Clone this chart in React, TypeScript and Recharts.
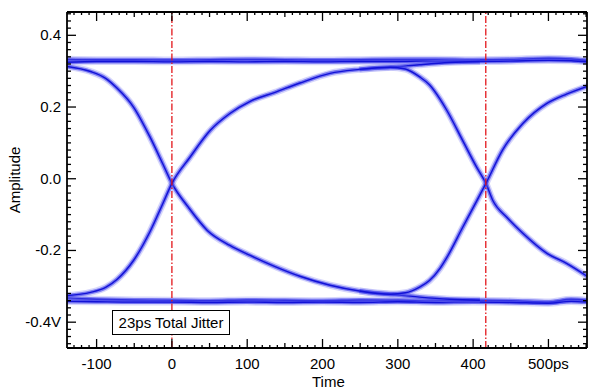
import { LineChart, Line, XAxis, YAxis, ReferenceLine } from "recharts";

// Eye diagram traces, [time ps, amplitude V]
const HIGH_1 = [
  [-140, 0.333], [-100, 0.332], [-50, 0.332], [0, 0.331], [50, 0.332], [100, 0.333], [150, 0.332], [200, 0.331],
  [250, 0.332], [300, 0.333], [350, 0.333], [400, 0.332], [450, 0.333], [500, 0.336], [530, 0.334], [552, 0.330],
];
const HIGH_2 = [
  [-140, 0.325], [-100, 0.327], [-50, 0.327], [0, 0.326], [50, 0.327], [100, 0.326], [150, 0.327], [200, 0.326],
  [250, 0.327], [300, 0.327], [350, 0.328], [400, 0.327], [450, 0.328], [500, 0.330], [530, 0.329], [552, 0.326],
];
const LOW_1 = [
  [-140, -0.333], [-100, -0.336], [-50, -0.338], [0, -0.339], [50, -0.340], [100, -0.338], [150, -0.339], [200, -0.340],
  [250, -0.338], [300, -0.339], [350, -0.340], [400, -0.339], [450, -0.340], [500, -0.344], [530, -0.336], [552, -0.339],
];
const LOW_2 = [
  [-140, -0.342], [-100, -0.343], [-50, -0.344], [0, -0.344], [50, -0.345], [100, -0.344], [150, -0.345], [200, -0.344],
  [250, -0.345], [300, -0.343], [350, -0.345], [400, -0.344], [450, -0.345], [500, -0.347], [530, -0.342], [552, -0.344],
];
// transitions through the first crossing
const FALL_A = [
  [-139, 0.313], [-108, 0.299], [-88, 0.280], [-73, 0.253], [-51, 0.200], [-29, 0.116], [-12, 0.041], [0, -0.013],
  [22, -0.080], [47, -0.144], [77, -0.186], [104, -0.214], [137, -0.245], [170, -0.272], [210, -0.297], [249, -0.313],
  [290, -0.322], [329, -0.330], [369, -0.336], [409, -0.339],
];
const RISE_B = [
  [-139, -0.326], [-108, -0.317], [-88, -0.303], [-73, -0.281], [-51, -0.228], [-29, -0.147], [-12, -0.069], [0, -0.013],
  [24, 0.060], [51, 0.135], [77, 0.182], [104, 0.216], [137, 0.241], [170, 0.267], [210, 0.294], [249, 0.305],
  [290, 0.311], [329, 0.318], [369, 0.324], [409, 0.327],
];
// transitions through the second crossing
const FALL_C = [
  [249, 0.305], [290, 0.311], [310, 0.306], [329, 0.284], [342, 0.262], [356, 0.222], [365, 0.191], [386, 0.107],
  [405, 0.031], [417, -0.013], [426, -0.060], [445, -0.108], [466, -0.152], [498, -0.208], [524, -0.236], [552, -0.273],
];
const RISE_D = [
  [249, -0.313], [290, -0.322], [310, -0.318], [329, -0.302], [342, -0.284], [356, -0.250], [365, -0.220], [386, -0.136],
  [405, -0.061], [417, -0.013], [439, 0.080], [466, 0.154], [498, 0.210], [524, 0.236], [552, 0.258],
];

const CROSSINGS = [0, 416.8];

const X_MAJOR = [-100, 0, 100, 200, 300, 400, 500];
const X_LABELS = ["-100", "0", "100", "200", "300", "400", "500ps"];
const Y_MAJOR = [-40, -20, 0, 20, 40]; // hundredths of a volt
const Y_LABELS = ["-0.4V", "-0.2", "0.0", "0.2", "0.4"];

const X_DOMAIN: [number, number] = [-139.3, 551.2];
const Y_DOMAIN: [number, number] = [-0.472, 0.465];

const xTicks: number[] = [];
for (let t = -130; t <= 550; t += 10) xTicks.push(t);
const yTicks: number[] = [];
for (let k = -46; k <= 46; k += 2) yTicks.push(k / 100);

const FONT = '"Liberation Sans", Arial, Helvetica, sans-serif';

const toPts = (rows: number[][]) => rows.map(([t, v]) => ({ t, v }));

const xLen = (v: number) => (v % 100 === 0 ? 9 : v % 50 === 0 ? 5 : 3);
const yLen = (k: number) => (k % 20 === 0 ? 9 : 4);

const BottomTick = (props: any) => {
  const { x, y, payload } = props;
  const val = Math.round(payload.value);
  const li = X_MAJOR.indexOf(val);
  return (
    <g>
      <line x1={x} y1={y} x2={x} y2={y - xLen(val)} stroke="#000" strokeWidth={1.3} />
      {li >= 0 && (
        <text x={x} y={y + 21} textAnchor="middle" fontSize={15} fontFamily={FONT} fill="#000">
          {X_LABELS[li]}
        </text>
      )}
    </g>
  );
};

const TopTick = (props: any) => {
  const { x, y, payload } = props;
  const val = Math.round(payload.value);
  return <line x1={x} y1={y} x2={x} y2={y + xLen(val)} stroke="#000" strokeWidth={1.3} />;
};

const LeftTick = (props: any) => {
  const { x, y, payload } = props;
  const k = Math.round(payload.value * 100);
  const li = Y_MAJOR.indexOf(k);
  return (
    <g>
      <line x1={x} y1={y} x2={x + yLen(k)} y2={y} stroke="#000" strokeWidth={1.3} />
      {li >= 0 && (
        <text x={x - 6} y={y + 5} textAnchor="end" fontSize={15} fontFamily={FONT} fill="#000">
          {Y_LABELS[li]}
        </text>
      )}
    </g>
  );
};

const RightTick = (props: any) => {
  const { x, y, payload } = props;
  const k = Math.round(payload.value * 100);
  return <line x1={x} y1={y} x2={x - yLen(k)} y2={y} stroke="#000" strokeWidth={1.3} />;
};

const TRACES = [
  { id: "high1", rows: HIGH_1 },
  { id: "high2", rows: HIGH_2 },
  { id: "low1", rows: LOW_1 },
  { id: "low2", rows: LOW_2 },
  { id: "fallA", rows: FALL_A },
  { id: "riseB", rows: RISE_B },
  { id: "fallC", rows: FALL_C },
  { id: "riseD", rows: RISE_D },
];

// each trace: a soft halo, a mid band and a dark core
const renderTrace = (tr: { id: string; rows: number[][] }) => {
  const data = toPts(tr.rows);
  return [
    <Line key={tr.id + "-halo"} data={data} dataKey="v" type="monotone" dot={false} activeDot={false}
      stroke="#7a7af2" strokeOpacity={0.3} strokeWidth={7} isAnimationActive={false} />,
    <Line key={tr.id + "-mid"} data={data} dataKey="v" type="monotone" dot={false} activeDot={false}
      stroke="#3a3aec" strokeOpacity={0.6} strokeWidth={4} isAnimationActive={false} />,
    <Line key={tr.id + "-core"} data={data} dataKey="v" type="monotone" dot={false} activeDot={false}
      stroke="#1212d6" strokeWidth={1.4} isAnimationActive={false} />,
  ];
};

export default function App() {
  const frame = { stroke: "#000", strokeWidth: 1.8 };
  return (
    <div style={{ position: "absolute", left: 0, top: 0, width: 589, height: 392, background: "#fff", fontFamily: FONT }}>
      <LineChart width={589} height={392} margin={{ top: 0, right: 0, bottom: 0, left: 0 }}>
        <XAxis dataKey="t" type="number" domain={X_DOMAIN} allowDataOverflow ticks={xTicks} interval={0}
          height={44} tickSize={0} tickMargin={0} tickLine={false} axisLine={frame} tick={BottomTick} />
        <XAxis xAxisId="top" orientation="top" dataKey="t" type="number" domain={X_DOMAIN} allowDataOverflow
          ticks={xTicks} interval={0} height={12} tickSize={0} tickMargin={0} tickLine={false} axisLine={frame} tick={TopTick} />
        <YAxis type="number" domain={Y_DOMAIN} allowDataOverflow ticks={yTicks} interval={0} width={67}
          tickSize={0} tickMargin={0} tickLine={false} axisLine={frame} tick={LeftTick} />
        <YAxis yAxisId="r" orientation="right" type="number" domain={Y_DOMAIN} allowDataOverflow ticks={yTicks}
          interval={0} width={2} tickSize={0} tickMargin={0} tickLine={false} axisLine={frame} tick={RightTick} />
        {TRACES.flatMap(renderTrace)}
        {CROSSINGS.map((c) => (
          <ReferenceLine key={c} x={c} stroke="#e3161b" strokeWidth={1.3} strokeDasharray="7 2 1.5 2" />
        ))}
      </LineChart>
      <div style={{ position: "absolute", left: 312, top: 373, width: 30, textAlign: "center", fontSize: 15 }}>Time</div>
      <div style={{ position: "absolute", left: 14, top: 180, transform: "translate(-50%, -50%) rotate(-90deg)", fontSize: 15, whiteSpace: "nowrap" }}>
        Amplitude
      </div>
      <div style={{ position: "absolute", left: 112, top: 310, width: 116, height: 23, border: "1.5px solid #000", background: "#fff",
        fontSize: 15, lineHeight: "23px", textAlign: "center" }}>
        23ps Total Jitter
      </div>
    </div>
  );
}
